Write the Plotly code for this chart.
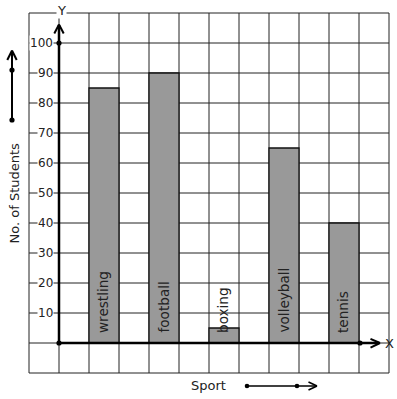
import plotly.graph_objects as go

# ---- data ----
categories = ["wrestling", "football", "boxing", "volleyball", "tennis"]
students = [85, 90, 5, 65, 40]
y_tick_values = [10, 20, 30, 40, 50, 60, 70, 80, 90, 100]
y_tick_labels = ["10", "20", "30", "40", "50", "60", "70", "80", "90", "100"]
x_title = "Sport"
y_title = "No. of Students"

# ---- layout geometry (pixels) ----
W, H = 397, 399
OX, OY = 59, 343          # pixel position of origin
PX_X = 30                 # pixels per x unit (one grid cell)
PX_Y = 3                  # pixels per student
FONT = "DejaVu Sans"


def X(px):
    return (px - OX) / PX_X


def Y(py):
    return (OY - py) / PX_Y


bar_x = [1.5 + 2 * i for i in range(len(categories))]

fig = go.Figure()
fig.add_trace(go.Bar(
    x=bar_x, y=students, width=1,
    marker=dict(color="#999999", line=dict(color="#111111", width=1.3)),
    hoverinfo="skip",
))

shapes = []
# grid
for gx in range(-1, 12):
    shapes.append(dict(type="line", xref="x", yref="y", x0=gx, x1=gx, y0=-10, y1=110,
                       line=dict(color="#222222", width=1), layer="below"))
for gy in range(-10, 111, 10):
    shapes.append(dict(type="line", xref="x", yref="y", x0=-1, x1=11, y0=gy, y1=gy,
                       line=dict(color="#222222", width=1), layer="below"))

AX = dict(color="#000000", width=2.5)


def seg(p0, p1, line=AX):
    shapes.append(dict(type="line", xref="x", yref="y",
                       x0=X(p0[0]), y0=Y(p0[1]), x1=X(p1[0]), y1=Y(p1[1]),
                       line=line, layer="above"))


def dot(p, r=2.6):
    shapes.append(dict(type="circle", xref="x", yref="y",
                       x0=X(p[0] - r), x1=X(p[0] + r), y0=Y(p[1] + r), y1=Y(p[1] - r),
                       fillcolor="#000000", line=dict(color="#000000", width=0), layer="above"))


ARR = dict(color="#000000", width=2)
# y axis
seg((59, 343), (59, 25))
seg((59, 24.5), (54.3, 33.5), ARR)
seg((59, 24.5), (63.7, 33.5), ARR)
# x axis
seg((59, 343), (379, 343))
seg((380, 343), (370.5, 338.8), ARR)
seg((380, 343), (370.5, 347.7), ARR)
dot((59, 343))
dot((59, 43))
dot((360, 343))
# left arrow decoration
seg((12, 120), (12, 51), ARR)
seg((12, 50.5), (7.3, 60), ARR)
seg((12, 50.5), (16.7, 60), ARR)
dot((12, 70))
dot((12, 120))
# bottom arrow decoration
thin = dict(color="#000000", width=1.6)
seg((247, 386), (316, 386), thin)
seg((317, 386), (308.5, 382), thin)
seg((317, 386), (308.5, 390), thin)
dot((247, 386), 2.3)
dot((297, 386), 2.3)

annotations = []
for v, t in zip(y_tick_values, y_tick_labels):
    annotations.append(dict(x=X(54), y=v, xref="x", yref="y", text=t, showarrow=False,
                            xanchor="right", yanchor="middle", bgcolor="#ffffff", borderpad=0,
                            font=dict(family=FONT, size=12, color="#222222")))
for cx, name in zip(bar_x, categories):
    annotations.append(dict(x=cx, y=0, xref="x", yref="y", text=name, showarrow=False,
                            textangle=-90, xanchor="center", yanchor="bottom",
                            yshift=8, xshift=-1,
                            font=dict(family=FONT, size=13.6, color="#222222")))
annotations.append(dict(x=X(61), y=Y(10), xref="x", yref="y", text="Y", showarrow=False,
                        xanchor="center", yanchor="middle", bgcolor="#ffffff", borderpad=0,
                        font=dict(family=FONT, size=13, color="#222222")))
annotations.append(dict(x=X(389), y=Y(343), xref="x", yref="y", text="X", showarrow=False,
                        xanchor="center", yanchor="middle",
                        font=dict(family=FONT, size=13, color="#222222")))
annotations.append(dict(x=X(208.5), y=Y(385), xref="x", yref="y", text=x_title, showarrow=False,
                        xanchor="center", yanchor="middle",
                        font=dict(family=FONT, size=13, color="#222222")))
annotations.append(dict(x=X(13.5), y=Y(193), xref="x", yref="y", text=y_title, showarrow=False,
                        textangle=-90, xanchor="center", yanchor="middle",
                        font=dict(family=FONT, size=13, color="#222222")))

fig.update_layout(
    width=W, height=H, autosize=False,
    margin=dict(l=0, r=0, t=0, b=0, pad=0),
    paper_bgcolor="#ffffff", plot_bgcolor="#ffffff",
    showlegend=False,
    xaxis=dict(range=[X(0), X(W)], visible=False, fixedrange=True),
    yaxis=dict(range=[Y(H), Y(0)], visible=False, fixedrange=True),
    shapes=shapes, annotations=annotations,
    bargap=0,
)

fig.write_html("out.html", config=dict(displayModeBar=False, staticPlot=True),
               post_script="document.body.style.margin='0';")
